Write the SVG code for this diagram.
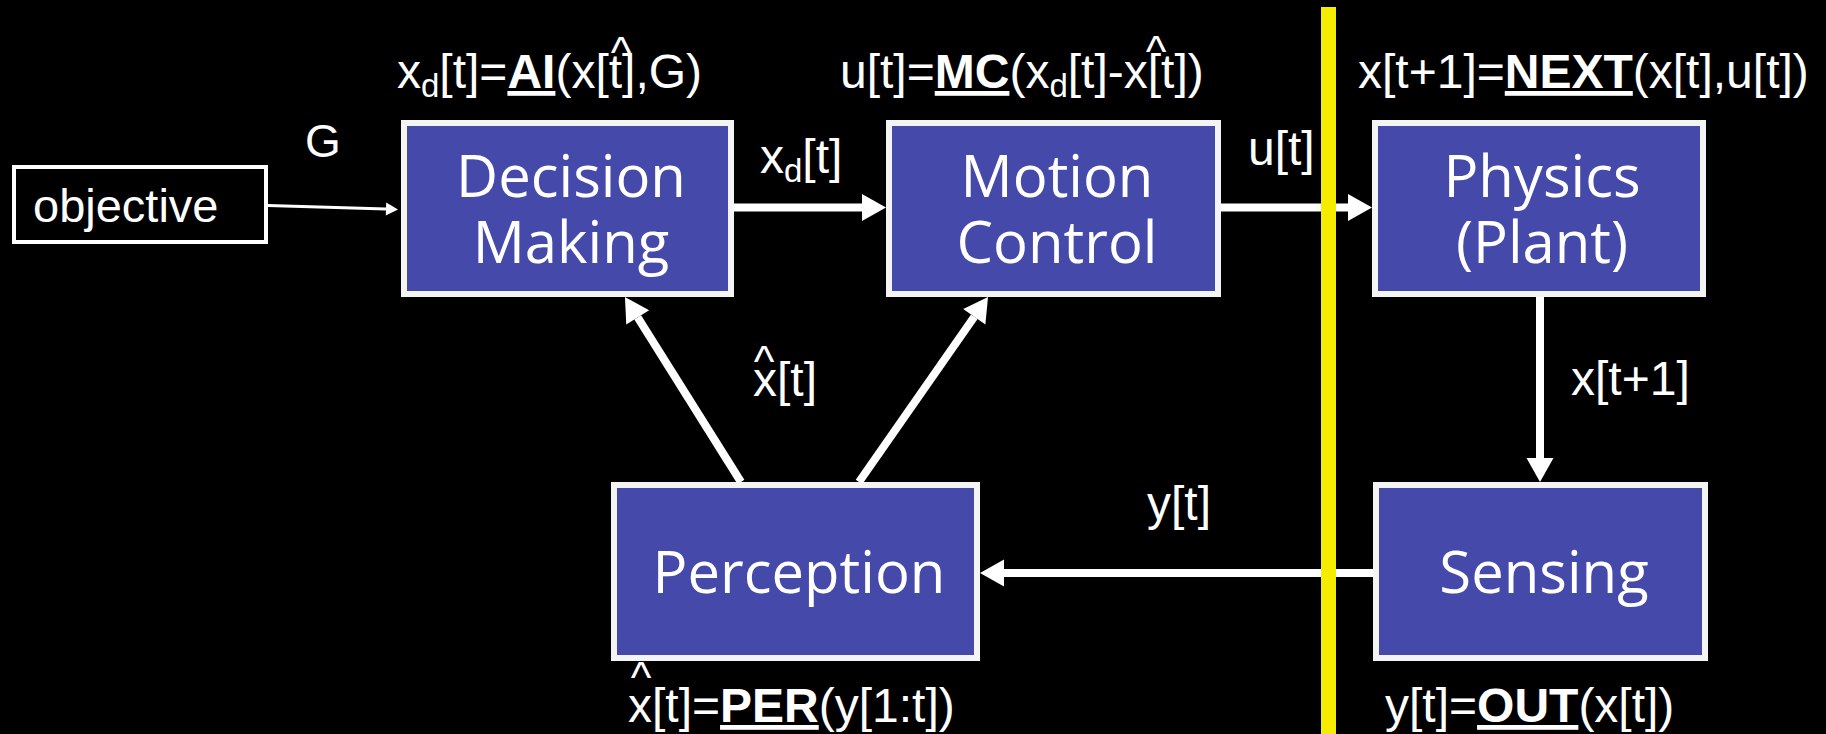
<svg xmlns="http://www.w3.org/2000/svg" width="1826" height="734" viewBox="0 0 1826 734">
<style>
.box{fill:#4549a9;stroke:#f4f4f4;stroke-width:6}
.bt{font-family:"Open Sans","Noto Sans",sans-serif;font-size:58px;fill:#fff;text-anchor:middle}
.lb{font-family:"Liberation Sans",Arial,sans-serif;font-size:48px;fill:#fff}
.hat{font-family:"Liberation Sans",Arial,sans-serif;font-size:44px;fill:#fff;text-anchor:middle}
.b{font-weight:bold;text-decoration:underline}
.sub{font-size:33px}
.con{stroke:#fff;stroke-width:8;fill:none}
</style>
<defs>
<marker id="ah" markerUnits="userSpaceOnUse" markerWidth="24" markerHeight="27" refX="0" refY="13.5" orient="auto" overflow="visible">
<path d="M0,0 L24,13.5 L0,27 Z" fill="#fff"/>
</marker>
<marker id="ahs" markerUnits="userSpaceOnUse" markerWidth="12" markerHeight="13" refX="0" refY="6.5" orient="auto" overflow="visible">
<path d="M0,0 L12,6.5 L0,13 Z" fill="#fff"/>
</marker>
</defs>
<rect x="0" y="0" width="1826" height="734" fill="#000"/>

<g id="objective">
<rect x="14" y="167" width="252" height="75" fill="none" stroke="#fff" stroke-width="4"/>
<text x="33" y="222" class="lb" style="font-size:47px">objective</text>
</g>

<g id="decision-making">
<rect class="box" x="404" y="123" width="327" height="171"/>
<text class="bt" x="571" y="197">Decision</text>
<text class="bt" x="571" y="263">Making</text>
</g>

<g id="motion-control">
<rect class="box" x="889" y="123" width="329" height="171"/>
<text class="bt" x="1057" y="197">Motion</text>
<text class="bt" x="1057" y="263">Control</text>
</g>

<g id="physics">
<rect class="box" x="1375" y="123" width="328" height="171"/>
<text class="bt" x="1542" y="197">Physics</text>
<text class="bt" x="1542" y="263">(Plant)</text>
</g>

<g id="perception">
<rect class="box" x="614" y="485" width="363" height="173"/>
<text class="bt" x="799" y="593">Perception</text>
</g>

<g id="sensing">
<rect class="box" x="1376" y="485" width="329" height="173"/>
<text class="bt" x="1544" y="593">Sensing</text>
</g>

<g id="connectors">
<path d="M268,205.5 L386,209.1" stroke="#fff" stroke-width="3" fill="none" marker-end="url(#ahs)"/>
<path class="con" d="M734,207.5 L862,207.5" marker-end="url(#ah)"/>
<path class="con" d="M1221,207.5 L1348,207.5" marker-end="url(#ah)"/>
<path class="con" d="M1540,297 L1540,458" marker-end="url(#ah)"/>
<path class="con" d="M1373,573 L1004,573" marker-end="url(#ah)"/>
<path class="con" d="M741,482 L637.7,317.3" marker-end="url(#ah)"/>
<path class="con" d="M859,482 L974.3,316.7" marker-end="url(#ah)"/>
<text class="lb" x="305" y="157" style="font-size:46px">G</text>
<text class="lb" x="760" y="173">x<tspan class="sub" dy="9">d</tspan><tspan dy="-9">[t]</tspan></text>
<text class="lb" x="1248" y="165">u[t]</text>
<text class="lb" x="753" y="396">x[t]</text>
<text class="hat" x="764" y="377">^</text>
<text class="lb" x="1147" y="520">y[t]</text>
<text class="lb" x="1571" y="395">x[t+1]</text>
</g>

<g id="formulas">
<text class="lb" x="397" y="88">x<tspan class="sub" dy="9">d</tspan><tspan dy="-9">[t]=</tspan><tspan class="b">AI</tspan>(x[t],G)</text>
<text class="hat" x="621" y="68">^</text>
<text class="lb" x="840" y="88">u[t]=<tspan class="b">MC</tspan>(x<tspan class="sub" dy="9">d</tspan><tspan dy="-9">[t]-x[t])</tspan></text>
<text class="hat" x="1156" y="67">^</text>
<text class="lb" x="1358" y="88">x[t+1]=<tspan class="b">NEXT</tspan>(x[t],u[t])</text>
<text class="lb" x="628" y="722">x[t]=<tspan class="b">PER</tspan>(y[1:t])</text>
<text class="hat" x="641" y="693">^</text>
<text class="lb" x="1385" y="722">y[t]=<tspan class="b">OUT</tspan>(x[t])</text>
</g>

<rect id="divider" x="1321" y="7" width="15" height="727" fill="#f5ec00"/>
</svg>
